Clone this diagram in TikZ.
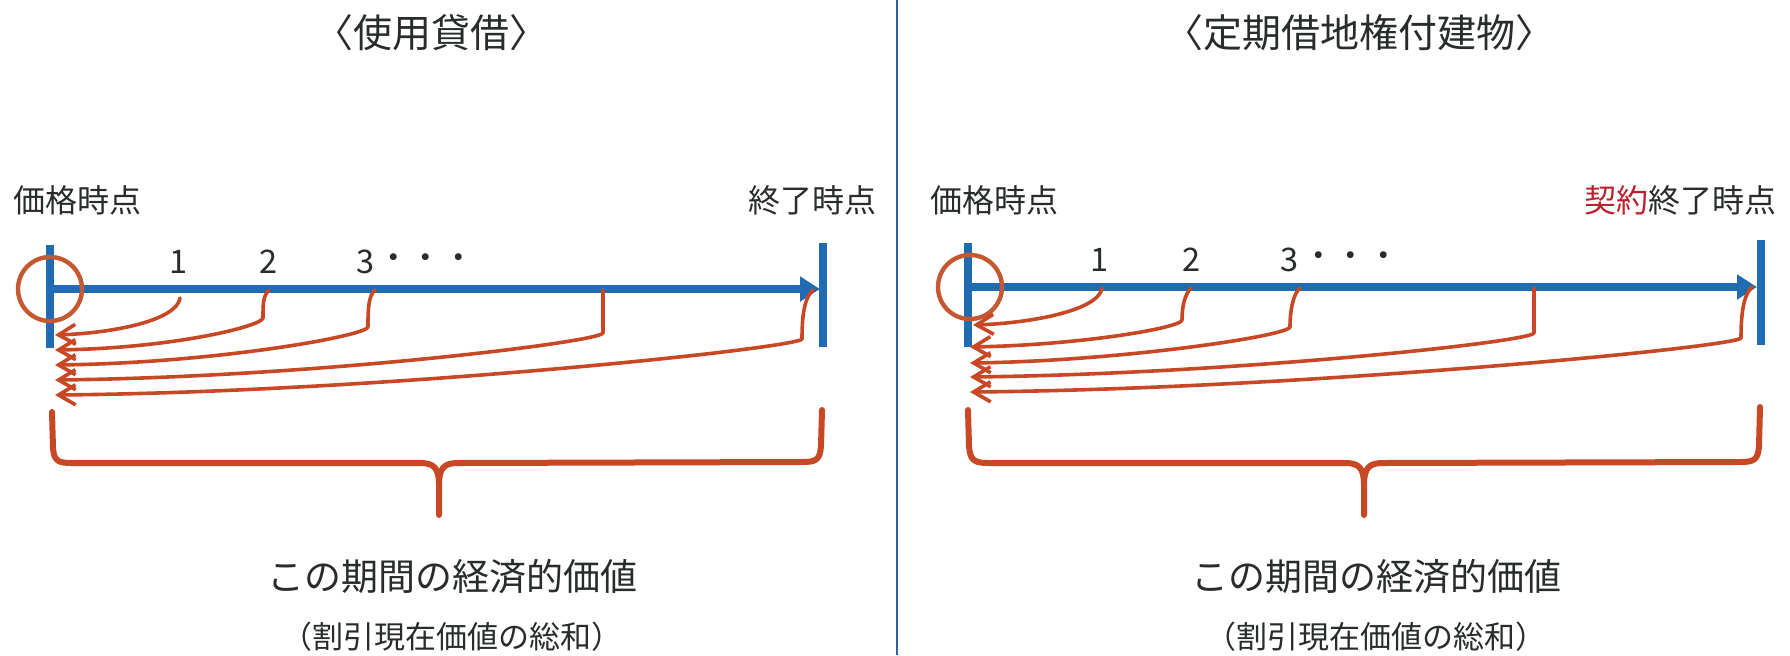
\documentclass[tikz,border=0pt]{standalone}
\usepackage{fontspec}
\setmainfont{Noto Sans CJK JP}
\usetikzlibrary{arrows.meta}
\definecolor{tlblue}{RGB}{32,108,178}
\definecolor{curvered}{RGB}{200,72,38}
\definecolor{circorange}{RGB}{196,88,48}
\definecolor{txtgray}{RGB}{40,44,44}
\definecolor{keyred}{RGB}{190,30,45}
\definecolor{divblue}{RGB}{45,95,165}
\begin{document}
\begin{tikzpicture}[x=0.5pt,y=-0.5pt,
  titletxt/.style={inner sep=0pt,text=txtgray,font=\fontsize{19.5pt}{21pt}\selectfont},
  lbl/.style={inner sep=0pt,text=txtgray,font=\fontsize{16pt}{18pt}\selectfont},
  num/.style={inner sep=0pt,text=txtgray,font=\fontsize{16.25pt}{18pt}\selectfont},
  bigtxt/.style={inner sep=0pt,text=txtgray,font=\fontsize{18.5pt}{20pt}\selectfont},
  subtxt/.style={inner sep=0pt,text=txtgray,font=\fontsize{15.5pt}{17pt}\selectfont},
  bar/.style={draw=tlblue,line width=4pt},
  tline/.style={draw=tlblue,line width=4pt,-{Triangle[length=10pt,width=12pt]}},
  circmark/.style={circle,draw=circorange,line width=2.2pt,minimum size=32pt,inner sep=0pt},
  flow/.style={draw=curvered,line width=1.8pt,line cap=round,line join=round,-{Straight Barb[length=8.5pt,width=10pt,line width=1.8pt]}},
  bracestyle/.style={draw=curvered,line width=3pt,line cap=round,line join=round},
  divline/.style={draw=divblue,line width=1pt}
]
\useasboundingbox (0,0) rectangle (1790,655);

% divider
\coordinate (DVt) at (897,0);
\coordinate (DVb) at (897,655);
\draw[divline] (DVt) -- (DVb);

% ================= left panel =================
\node[titletxt] (T1) at (431,33) {〈使用貸借〉};
\node[lbl,anchor=west] (P1) at (13,200) {価格時点};
\node[lbl,anchor=east] (E1) at (877,200) {終了時点};

\coordinate (LB1t) at (50,245);
\coordinate (LB1b) at (50,348);
\coordinate (RB1t) at (823,243);
\coordinate (RB1b) at (823,347);
\draw[bar] (LB1t) -- (LB1b);
\draw[bar] (RB1t) -- (RB1b);
\coordinate (TL1s) at (46,289);
\coordinate (TL1e) at (820,289);
\draw[tline] (TL1s) -- (TL1e);
\node[circmark] (C1) at (50,289) {};

\node[num] (N11) at (179,262) {1};
\node[num] (N12) at (269,262) {2};
\node[num] (N13) at (366,262) {3};
\node[num] (D1) at (426,262) {・・・};

\coordinate (L1s) at (180,298);  \coordinate (L1e) at (55,335);
\coordinate (L2s) at (269,290);  \coordinate (L2k) at (263,318); \coordinate (L2e) at (55,350);
\coordinate (L3s) at (375,290);  \coordinate (L3k) at (368,327); \coordinate (L3e) at (55,365);
\coordinate (L4s) at (603,290);  \coordinate (L4k) at (603,333); \coordinate (L4e) at (55,380);
\coordinate (L5s) at (813,290);  \coordinate (L5k) at (802,339); \coordinate (L5e) at (55,395);

\draw[flow] (L1s) .. controls +(-3,22) and +(60,-2) .. (L1e);
\draw[flow] (L2s) .. controls +(-6,6) and +(0,-14) .. (L2k) .. controls +(-1,8) and +(120,-2) .. (L2e);
\draw[flow] (L3s) .. controls +(-7,6) and +(0,-16) .. (L3k) .. controls +(-2,9) and +(160,-2) .. (L3e);
\draw[flow] (L4s) -- (L4k) .. controls +(-3,9) and +(260,-3) .. (L4e);
\draw[flow] (L5s) .. controls +(-9,8) and +(0,-22) .. (L5k) .. controls +(-4,9) and +(330,-3) .. (L5e);

% brace
\coordinate (BR1l) at (52,412);
\coordinate (BR1r) at (822,410);
\coordinate (BR1tip) at (439,515);
\draw[bracestyle] (BR1l) -- (53,448) .. controls (54,461) and (58,463) .. (72,463)
  -- (420,463) .. controls (434,463) and (439,468) .. (439,485) -- (BR1tip);
\draw[bracestyle] (BR1r) -- (821,446) .. controls (820,460) and (816,462) .. (802,462)
  -- (458,463) .. controls (444,463) and (439,468) .. (439,485);

\node[bigtxt] (V1) at (452,577) {この期間の経済的価値};
\node[subtxt] (S1) at (452,637) {（割引現在価値の総和）};

% ================= right panel =================
\node[titletxt] (T2) at (1359,33) {〈定期借地権付建物〉};
\node[lbl,anchor=west] (P2) at (930,200) {価格時点};
\node[lbl,anchor=east] (E2) at (1777,200) {\textcolor{keyred}{契約}終了時点};

\coordinate (LB2t) at (968,243);
\coordinate (LB2b) at (968,347);
\coordinate (RB2t) at (1761,240);
\coordinate (RB2b) at (1761,345);
\draw[bar] (LB2t) -- (LB2b);
\draw[bar] (RB2t) -- (RB2b);
\coordinate (TL2s) at (964,287);
\coordinate (TL2e) at (1757,287);
\draw[tline] (TL2s) -- (TL2e);
\node[circmark] (C2) at (970,287) {};

\node[num] (N21) at (1100,260) {1};
\node[num] (N22) at (1192,260) {2};
\node[num] (N23) at (1290,260) {3};
\node[num] (D2) at (1351,260) {・・・};

\coordinate (R1s) at (1102,288);  \coordinate (R1e) at (973,325);
\coordinate (R2s) at (1191,288);  \coordinate (R2k) at (1182,320); \coordinate (R2e) at (970,347);
\coordinate (R3s) at (1300,288);  \coordinate (R3k) at (1290,327); \coordinate (R3e) at (970,363);
\coordinate (R4s) at (1534,288);  \coordinate (R4k) at (1534,333); \coordinate (R4e) at (970,377);
\coordinate (R5s) at (1752,287);  \coordinate (R5k) at (1741,338); \coordinate (R5e) at (970,392);

\draw[flow] (R1s) .. controls +(-3,22) and +(60,-2) .. (R1e);
\draw[flow] (R2s) .. controls +(-6,6) and +(0,-14) .. (R2k) .. controls +(-1,8) and +(110,-2) .. (R2e);
\draw[flow] (R3s) .. controls +(-7,6) and +(0,-16) .. (R3k) .. controls +(-2,9) and +(150,-2) .. (R3e);
\draw[flow] (R4s) -- (R4k) .. controls +(-3,9) and +(260,-3) .. (R4e);
\draw[flow] (R5s) .. controls +(-9,8) and +(0,-22) .. (R5k) .. controls +(-4,9) and +(330,-3) .. (R5e);

\coordinate (BR2l) at (968,410);
\coordinate (BR2r) at (1760,407);
\coordinate (BR2tip) at (1364,515);
\draw[bracestyle] (BR2l) -- (969,446) .. controls (970,460) and (974,463) .. (988,463)
  -- (1345,463) .. controls (1359,463) and (1364,468) .. (1364,485) -- (BR2tip);
\draw[bracestyle] (BR2r) -- (1759,446) .. controls (1758,460) and (1754,462) .. (1740,462)
  -- (1383,463) .. controls (1369,463) and (1364,468) .. (1364,485);

\node[bigtxt] (V2) at (1376,577) {この期間の経済的価値};
\node[subtxt] (S2) at (1376,637) {（割引現在価値の総和）};
\end{tikzpicture}
\end{document}
